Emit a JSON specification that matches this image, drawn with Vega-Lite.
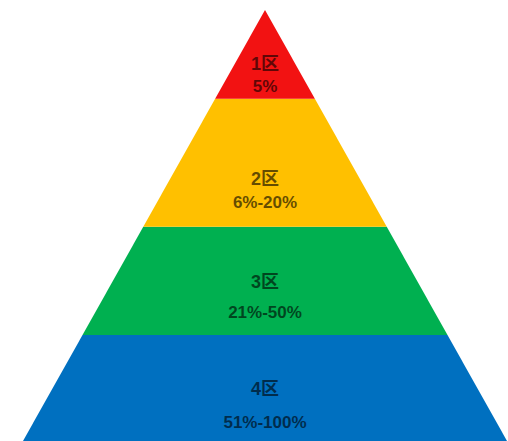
{
  "$schema": "https://vega.github.io/schema/vega-lite/v6.json",
  "width": 508,
  "height": 441,
  "autosize": {"type": "fit", "contains": "padding"},
  "padding": 0,
  "background": "white",
  "config": {"view": {"stroke": null}},
  "datasets": {
    "shape": [
      {"band": "4区", "level": 0, "left": -100, "right": 100},
      {"band": "4区", "level": 24.6, "left": -75.4, "right": 75.4},
      {"band": "3区", "level": 24.6, "left": -75.4, "right": 75.4},
      {"band": "3区", "level": 49.7, "left": -50.3, "right": 50.3},
      {"band": "2区", "level": 49.7, "left": -50.3, "right": 50.3},
      {"band": "2区", "level": 79.4, "left": -20.6, "right": 20.6},
      {"band": "1区", "level": 79.4, "left": -20.6, "right": 20.6},
      {"band": "1区", "level": 100, "left": 0, "right": 0}
    ],
    "labels": [
      {"band": "1区", "name": "1区", "range": "5%", "pos": 0, "nameLevel": 87.2, "rangeLevel": 82.1},
      {"band": "2区", "name": "2区", "range": "6%-20%", "pos": 0, "nameLevel": 60.6, "rangeLevel": 55.2},
      {"band": "3区", "name": "3区", "range": "21%-50%", "pos": 0, "nameLevel": 36.7, "rangeLevel": 29.7},
      {"band": "4区", "name": "4区", "range": "51%-100%", "pos": 0, "nameLevel": 11.8, "rangeLevel": 4.2}
    ]
  },
  "layer": [
    {
      "data": {"name": "shape"},
      "mark": {"type": "area", "orient": "horizontal"},
      "encoding": {
        "y": {"field": "level", "type": "quantitative", "scale": {"domain": [0, 102.3], "nice": false, "zero": false}, "axis": null},
        "x": {"field": "left", "type": "quantitative", "scale": {"domain": [-109.5, 100.4], "nice": false, "zero": false}, "axis": null},
        "x2": {"field": "right"},
        "color": {
          "field": "band",
          "type": "nominal",
          "scale": {"domain": ["1区", "2区", "3区", "4区"], "range": ["#F21212", "#FFC000", "#00B050", "#0070C0"]},
          "legend": null
        },
        "detail": {"field": "band"}
      }
    },
    {
      "data": {"name": "labels"},
      "mark": {"type": "text", "font": "'Liberation Sans', 'Noto Sans CJK SC'", "fontSize": 18, "fontWeight": "bold", "color": "#000000", "opacity": 0.6, "baseline": "middle", "align": "center"},
      "encoding": {
        "x": {"field": "pos", "type": "quantitative"},
        "y": {"field": "nameLevel", "type": "quantitative"},
        "text": {"field": "name"}
      }
    },
    {
      "data": {"name": "labels"},
      "mark": {"type": "text", "font": "'Liberation Sans', 'Noto Sans CJK SC'", "fontSize": 17, "fontWeight": "bold", "color": "#000000", "opacity": 0.6, "baseline": "middle", "align": "center"},
      "encoding": {
        "x": {"field": "pos", "type": "quantitative"},
        "y": {"field": "rangeLevel", "type": "quantitative"},
        "text": {"field": "range"}
      }
    }
  ]
}
